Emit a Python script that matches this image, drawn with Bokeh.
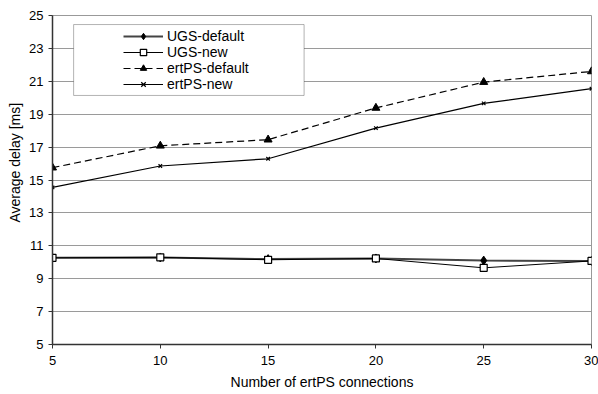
from bokeh.plotting import figure
from bokeh.models import Range1d, FixedTicker, Legend, LegendItem, BoxAnnotation, Title
from bokeh.embed import file_html
from bokeh.resources import INLINE

connections = [5, 10, 15, 20, 25, 30]
ugs_default = [10.27, 10.29, 10.19, 10.23, 10.10, 10.08]
ugs_new = [10.27, 10.30, 10.15, 10.23, 9.66, 10.08]
ertps_default = [15.75, 17.08, 17.45, 19.38, 20.95, 21.60]
ertps_new = [14.55, 15.85, 16.29, 18.15, 19.66, 20.55]
y_ticks = [5, 7, 9, 11, 13, 15, 17, 19, 21, 23, 25]
x_ticks = [5, 10, 15, 20, 25, 30]

FONT = "Liberation Sans"

p = figure(width=598, height=394, output_backend="svg", toolbar_location=None,
           x_range=Range1d(5, 30), y_range=Range1d(5, 25),
           min_border_left=52, min_border_right=7, min_border_top=15, min_border_bottom=50)
p.outline_line_color = "#999999"
p.outline_line_width = 1
p.background_fill_color = "white"
p.border_fill_color = "white"

p.xgrid.grid_line_color = None
p.ygrid.grid_line_color = "#9a9a9a"
p.ygrid.grid_line_width = 1

p.yaxis.ticker = FixedTicker(ticks=y_ticks)
p.xaxis.ticker = FixedTicker(ticks=x_ticks)
for ax in (p.xaxis, p.yaxis):
    ax.axis_line_color = "#333333"
    ax.axis_line_width = 1.5
    ax.major_tick_line_color = "#333333"
    ax.major_tick_in = 0
    ax.major_tick_out = 4
    ax.minor_tick_line_color = None
    ax.major_label_text_font = FONT
    ax.major_label_text_font_size = "13px"
    ax.major_label_text_color = "black"
    ax.axis_label_text_font = FONT
    ax.axis_label_text_font_size = "14px"
    ax.axis_label_text_font_style = "normal"
    ax.axis_label_text_color = "black"
p.xaxis.axis_label = "Number of ertPS connections"
p.xaxis.major_label_standoff = 7
p.xaxis.axis_label_standoff = 6
p.yaxis.major_label_standoff = 5

# y-axis title, placed like the original (slightly above the frame centre)
ytitle = Title(text="Average delay [ms]", align="left", offset=122, standoff=7,
               text_font=FONT, text_font_size="14px", text_font_style="normal",
               text_color="black")
p.add_layout(ytitle, "left")

# legend frame
box = BoxAnnotation(left=5.98, right=16.67, top=24.45, bottom=20.14,
                    fill_color="white", fill_alpha=1.0,
                    line_color="black", line_width=1, level="annotation")
p.add_layout(box)

l1 = p.line(connections, ugs_default, line_color="#444444", line_width=2)
m1 = p.scatter(connections, ugs_default, marker="diamond", size=9,
               fill_color="black", line_color="black")
l2 = p.line(connections, ugs_new, line_color="black", line_width=1)
m2 = p.scatter(connections, ugs_new, marker="square", size=7,
               fill_color="white", line_color="black", line_width=1.2)
l3 = p.line(connections, ertps_default, line_color="black", line_width=1.2, line_dash="7 4")
m3 = p.scatter(connections, ertps_default, marker="triangle", size=8,
               fill_color="black", line_color="black")
l4 = p.line(connections, ertps_new, line_color="black", line_width=1.2)
m4 = p.scatter(connections, ertps_new, marker="x", size=5,
               line_color="black", line_width=1.2)

legend = Legend(items=[
    LegendItem(label="UGS-default", renderers=[l1, m1]),
    LegendItem(label="UGS-new", renderers=[l2, m2]),
    LegendItem(label="ertPS-default", renderers=[l3, m3]),
    LegendItem(label="ertPS-new", renderers=[l4, m4]),
], location=(67, 248))
legend.border_line_alpha = 0
legend.background_fill_alpha = 0
legend.padding = 4
legend.margin = 0
legend.spacing = 0
legend.glyph_width = 40
legend.glyph_height = 16
legend.label_height = 16
legend.label_standoff = 4
legend.label_text_font = FONT
legend.label_text_font_size = "14px"
legend.label_text_color = "black"
p.add_layout(legend)

open("out.html", "w").write(file_html(p, INLINE))
